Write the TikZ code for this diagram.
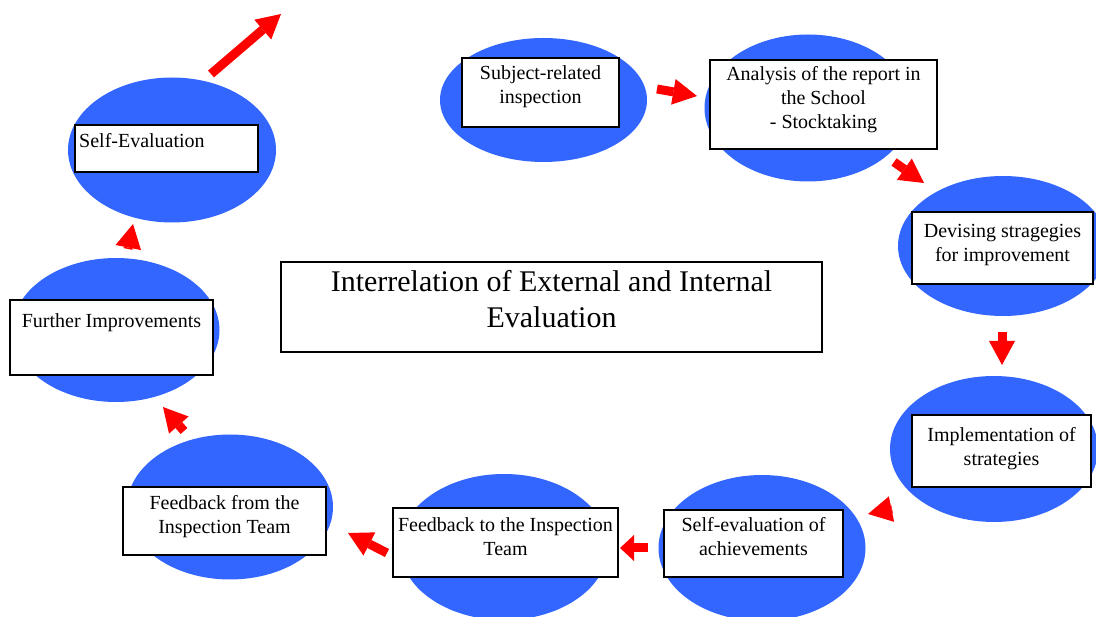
\documentclass[tikz,border=0pt]{standalone}
\usepackage{fontspec}
\setmainfont{Liberation Serif}
\usetikzlibrary{shapes.geometric,arrows.meta}

\definecolor{discblue}{RGB}{51,102,255}
\definecolor{arrred}{RGB}{255,0,0}

\tikzset{
  disc/.style={ellipse, fill=discblue, inner sep=0pt},
  box/.style={rectangle, draw=black, fill=white, line width=1.3pt, inner sep=0pt},
  boxtext/.style={inner sep=0pt, align=center, font=\fontsize{20}{24}\selectfont},
  blockarrow/.style={draw=arrred, line width=9pt, -{Triangle[length=24pt,width=26pt,line width=0pt]}},
  shortarrow/.style={draw=arrred, line width=9pt, -{Triangle[length=14pt,width=26pt,line width=0pt]}}
}

\begin{document}
\begin{tikzpicture}[x=1pt,y=-1pt]
        \useasboundingbox (0,0) rectangle (1096,617); % page size
        % blue discs
        \node[disc, minimum width=207, minimum height=124] (subjdisc) at (543.5,100) {};
        \node[disc, minimum width=207, minimum height=147] (analdisc) at (808,108) {};
        \node[disc, minimum width=210, minimum height=140] (devidisc) at (1003,246) {};
        \node[disc, minimum width=208, minimum height=146] (impldisc) at (994,449) {};
        \node[disc, minimum width=207, minimum height=146] (achdisc) at (762,548) {};
        \node[disc, minimum width=208, minimum height=146] (fbtodisc) at (504,547) {};
        \node[disc, minimum width=206, minimum height=145] (fbfromdisc) at (230,507) {};
        \node[disc, minimum width=207, minimum height=144] (furtherdisc) at (116,330) {};
        \node[disc, minimum width=208, minimum height=145] (selfdisc) at (172,150) {};
        % white boxes
        \node[box, minimum width=157, minimum height=69] (subj) at (540.5,92.5) {};
        \node[box, minimum width=227, minimum height=89] (anal) at (823.5,104.5) {};
        \node[box, minimum width=181, minimum height=72] (devi) at (1002.5,248) {};
        \node[box, minimum width=179, minimum height=72] (impl) at (1001.5,451) {};
        \node[box, minimum width=179, minimum height=67] (ach) at (753.5,543.5) {};
        \node[box, minimum width=225, minimum height=69] (fbto) at (505.5,542.5) {};
        \node[box, minimum width=203, minimum height=68] (fbfrom) at (224.5,521) {};
        \node[box, minimum width=203, minimum height=75] (further) at (111.5,337.5) {};
        \node[box, minimum width=183, minimum height=47] (self) at (166.5,148.5) {};
        \node[box, minimum width=541, minimum height=90] (title) at (551.5,307) {};
        % texts
        \node[boxtext] (subjtext) at (540.5,86.5) {Subject-related\\inspection};
        \node[boxtext] (analtext) at (823.5,99.5) {Analysis of the report in\\the School\\- Stocktaking};
        \node[boxtext] (devitext) at (1002.5,245) {Devising stragegies\\for improvement};
        \node[boxtext] (impltext) at (1001.5,448.5) {Implementation of\\strategies};
        \node[boxtext] (achtext) at (753.5,537) {Self-evaluation of\\achievements};
        \node[boxtext] (fbtotext) at (505.5,536.5) {Feedback to the Inspection\\Team};
        \node[boxtext] (fbfromtext) at (224.5,517) {Feedback from the\\Inspection Team};
        \node[boxtext] (furthertext) at (111.5,323) {Further Improvements};
        \node[boxtext, anchor=west] (selftext) at (79,141) {Self-Evaluation};
        \node[boxtext, font=\fontsize{30}{36}\selectfont] (titletext) at (551.5,299) {Interrelation of External and Internal\\Evaluation};
        % arrow ends
        \coordinate (outs) at (211,74);   \coordinate (oute) at (281,14);
        \coordinate (subjs) at (657,89);  \coordinate (subje) at (697,96);
        \coordinate (anals) at (894,162); \coordinate (anale) at (924,183);
        \coordinate (devis) at (1002,332); \coordinate (devie) at (1002,365);
        \coordinate (impls) at (892,509); \coordinate (imple) at (868,514);
        \coordinate (achs) at (648,548);  \coordinate (ache) at (620,548);
        \coordinate (fbtos) at (387,553); \coordinate (fbtoe) at (348,533);
        \coordinate (fbfroms) at (184,431); \coordinate (fbfrome) at (163,407);
        \coordinate (furthers) at (128,249); \coordinate (furthere) at (133,224);
        % red arrows
        \draw[blockarrow] (outs) -- (oute); % leaving the cycle
        \draw[blockarrow] (subjs) -- (subje);
        \draw[blockarrow] (anals) -- (anale);
        \draw[blockarrow] (devis) -- (devie);
        \draw[blockarrow] (impls) -- (imple); % head only
        \draw[shortarrow] (achs) -- (ache);
        \draw[blockarrow] (fbtos) -- (fbtoe);
        \draw[blockarrow] (fbfroms) -- (fbfrome);
        \draw[blockarrow] (furthers) -- (furthere); % head only
\end{tikzpicture}
\end{document}
